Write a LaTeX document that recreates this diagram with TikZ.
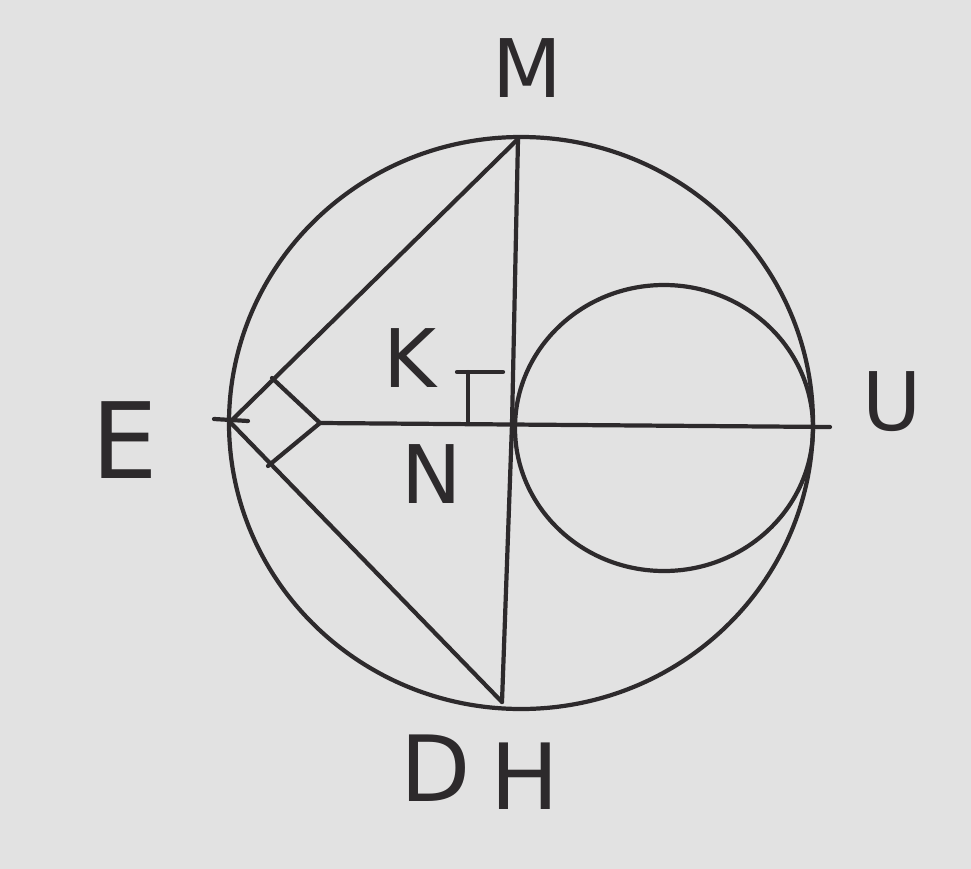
\documentclass[tikz,border=0pt]{standalone}
\usepackage{fontspec}
\setmainfont{DejaVu Sans}
\usepackage{tikz}
\usetikzlibrary{calc, positioning}
\usepackage{xcolor}
\definecolor{paper}{RGB}{226, 226, 226}
\definecolor{ink}{RGB}{45, 42, 44}

\begin{document}
\begin{tikzpicture}[
  x=0.02cm, y=-0.02cm,
  stroke/.style={draw=ink, line width=2.4pt, line cap=round, line join=round},
  letter/.style={text=ink, font=\fontsize{46}{50}\selectfont, inner sep=0pt}
]
  % Paper
  \fill[paper] (0,0) rectangle (971,869);
  \useasboundingbox (0,0) rectangle (971,869);
  % Points
  \coordinate (M) at (518,139);
  \coordinate (E) at (230,422);
  \coordinate (H) at (502,702);
  \coordinate (N) at (512,424);
  \coordinate (Ut) at (830,427);
  \coordinate (Rc) at (320,423);
  \coordinate (Rt) at (272,378);
  \coordinate (Rb) at (268,466);
  \coordinate (Et) at (214,419);
  \coordinate (Ee) at (248,421);
  % Circles
  \draw[stroke] (521,423) ellipse [x radius=292, y radius=286];
  \draw[stroke] (664,428) ellipse [x radius=149, y radius=143];
  % Chords
  \draw[stroke] (E) -- (M);
  \draw[stroke] (E) -- (H);
  \draw[stroke] (M) -- (N) -- (H);
  \draw[stroke] (Rc) -- (Ut);
  \draw[stroke] (Et) -- (Ee);
  % Right angle marks
  \draw[stroke] (Rt) -- (Rc) -- (Rb);
  \coordinate (Kl) at (457,372);
  \coordinate (Kr) at (503,372);
  \coordinate (Kt) at (468,372);
  \coordinate (Kb) at (468,423);
  \draw[stroke] (Kl) -- (Kr);
  \draw[stroke] (Kt) -- (Kb);
  % Labels
  \node[letter] (lM) at (527,68) {M};
  \node[letter] (lK) at (410,358) {K};
  \node[letter] (lN) at (432,474) {N};
  \node[letter, font=\fontsize{60}{64}\selectfont] (lE) at (125,440) {E};
  \node[letter] (lU) at (892,402) {U};
  \node[letter, font=\fontsize{52}{56}\selectfont] (lD) at (436,768) {D};
  \node[letter, font=\fontsize{52}{56}\selectfont] (lH) at (525,776) {H};
\end{tikzpicture}
\end{document}
